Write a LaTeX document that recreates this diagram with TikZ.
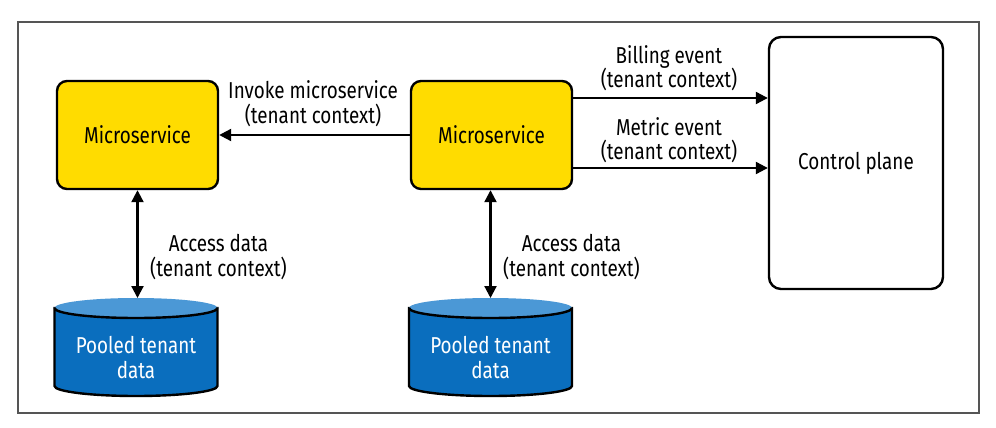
\documentclass[tikz,border=0pt]{standalone}
\usepackage{fontspec}
\setmainfont[FakeStretch=0.82]{Fira Sans}
\usetikzlibrary{arrows.meta,calc}
\definecolor{msyellow}{HTML}{FFDC00}
\definecolor{dbblue}{HTML}{0A6EBE}
\definecolor{dbtop}{HTML}{4B98D6}
\definecolor{framegray}{HTML}{555555}
\newcommand{\drawdb}[2]{% center x, center y of the cylinder box
  \path[fill=dbblue,draw=black,line width=2.4pt]
    (#1-81.5,#2-39.5) -- (#1-81.5,#2+38.5)
    arc[start angle=180,end angle=0,x radius=81.5,y radius=10]
    -- (#1+81.5,#2-39.5) -- cycle;
  \fill[dbtop] (#1,#2-39.5) ellipse[x radius=81.5,y radius=10];
  \draw[black,line width=2.4pt] (#1-81.5,#2-39.5)
    arc[start angle=180,end angle=360,x radius=81.5,y radius=-10];
}
\tikzset{
  txt/.style={font=\fontsize{23}{24.5}\selectfont,align=center,inner sep=0pt},
  msbox/.style={txt,draw=black,fill=msyellow,line width=2.4pt,rounded corners=10pt,
    minimum width=161pt,minimum height=108pt},
  cpbox/.style={txt,draw=black,fill=white,line width=2.4pt,rounded corners=12pt,
    minimum width=174pt,minimum height=252pt},
  dbnode/.style={txt,text=white,minimum width=163pt,minimum height=99pt},
  arr/.style={-{Triangle[length=12pt,width=12pt]},line width=2.2pt},
  darr/.style={{Triangle[length=12pt,width=12pt]}-{Triangle[length=12pt,width=12pt]},line width=2.2pt},
  lbl/.style={txt},
}
\begin{document}
\begin{tikzpicture}[x=1pt,y=-1pt]
\useasboundingbox (0,0) rectangle (996,428);
\fill[white] (0,0) rectangle (996,428);
\draw[framegray,line width=1.3pt] (18,22) rectangle (979,413);

\node[msbox] (m1) at (137.5,135) {Microservice};
\node[msbox] (m2) at (491.5,135) {Microservice};
\node[cpbox] (cp) at (856,163) {Control plane};

\drawdb{136}{347.5}
\drawdb{490.5}{347.5}
\node[dbnode] (db1) at (136,357.5) {Pooled tenant\\data};
\node[dbnode] (db2) at (490.5,357.5) {Pooled tenant\\data};
\coordinate (db1top) at (137.5,298);
\coordinate (db2top) at (490.5,298);

\draw[arr] (m2.west) -- (m1.east);
\draw[arr] ([yshift=37pt]m2.east) -- ([yshift=37pt]m2.east -| cp.west);
\draw[arr] ([yshift=-33pt]m2.east) -- ([yshift=-33pt]m2.east -| cp.west);
\draw[darr] (m1.south) -- (db1top);
\draw[darr] (m2.south -| db2top) -- (db2top);

\node[lbl] (l1) at (313,103.5) {Invoke microservice\\(tenant context)};
\node[lbl] (l2) at (669,68) {Billing event\\(tenant context)};
\node[lbl] (l3) at (669,140) {Metric event\\(tenant context)};
\node[lbl,anchor=west] (l4) at (150,257) {Access data\\(tenant context)};
\node[lbl,anchor=west] (l5) at (503,257) {Access data\\(tenant context)};
\end{tikzpicture}
\end{document}
